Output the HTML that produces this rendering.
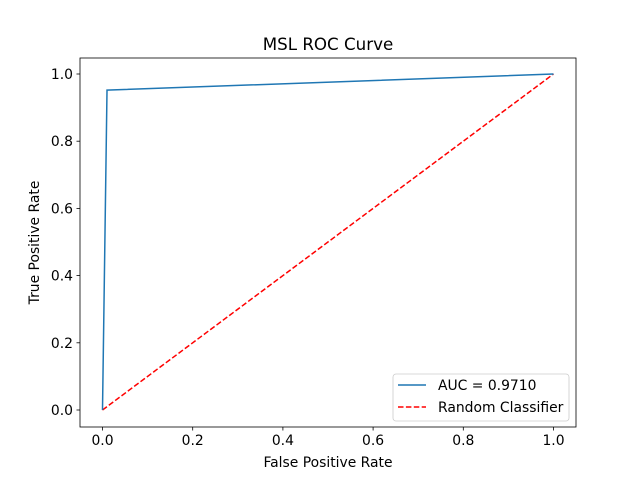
<!DOCTYPE html>
<html><head><meta charset="utf-8"><style>body{margin:0;background:#fff}svg{display:block;font-family:"DejaVu Sans","Liberation Sans",sans-serif}</style></head>
<body>
<svg id="chart" width="640" height="480">
<rect x="0" y="0" width="640" height="480" fill="#fff"/>
<text x="328" y="50" font-size="16.7" text-anchor="middle">MSL ROC Curve</text>
<g id="ticks"></g>
<g id="series"></g>
<rect x="80" y="58" width="496" height="369" fill="none" stroke="#000" stroke-width="0.8"/>
<text x="328" y="467" font-size="13.9" text-anchor="middle">False Positive Rate</text>
<text x="39" y="242.5" font-size="13.9" text-anchor="middle" transform="rotate(-90 39 242.5)">True Positive Rate</text>
<g>
<rect x="393" y="374" width="176" height="47" rx="3" fill="#fff" fill-opacity="0.8" stroke="#ccc" stroke-width="0.8"/>
<line x1="398" y1="385" x2="426" y2="385" stroke="#1f77b4" stroke-width="1.5"/>
<text x="438" y="390" font-size="13.9">AUC = 0.9710</text>
<line x1="398" y1="407" x2="426" y2="407" stroke="red" stroke-width="1.5" stroke-dasharray="5.5,2.4"/>
<text x="438" y="412" font-size="13.9">Random Classifier</text>
</g>
</svg>
<script>
const fpr = [0, 0.01, 1];
const tpr = [0, 0.952, 1];
const randX = [0, 1];
const randY = [0, 1];
const xTicks = [0, 0.2, 0.4, 0.6, 0.8, 1.0];
const yTicks = [0, 0.2, 0.4, 0.6, 0.8, 1.0];
const NS = "http://www.w3.org/2000/svg";
const xs = v => 102.5 + (v - 0) * 451;
const ys = v => 410 - v * 336;
const tg = document.getElementById('ticks');
xTicks.forEach(t => {
  const l = document.createElementNS(NS, 'line');
  l.setAttribute('x1', xs(t)); l.setAttribute('x2', xs(t));
  l.setAttribute('y1', 427); l.setAttribute('y2', 430.5);
  l.setAttribute('stroke', '#000'); l.setAttribute('stroke-width', '0.8');
  
  
  tg.appendChild(l);
  const tx = document.createElementNS(NS, 'text');
  tx.setAttribute('x', xs(t)); tx.setAttribute('y', 445);
  tx.setAttribute('font-size', '13.9'); tx.setAttribute('text-anchor', 'middle');
  tx.textContent = t.toFixed(1);
  
  
  tg.appendChild(tx);
});
yTicks.forEach(t => {
  const l = document.createElementNS(NS, 'line');
  l.setAttribute('x1', 76.5); l.setAttribute('x2', 80);
  l.setAttribute('y1', ys(t)); l.setAttribute('y2', ys(t));
  l.setAttribute('stroke', '#000'); l.setAttribute('stroke-width', '0.8');
  
  
  tg.appendChild(l);
  const tx = document.createElementNS(NS, 'text');
  tx.setAttribute('x', 73); tx.setAttribute('y', ys(t) + 5);
  tx.setAttribute('font-size', '13.9'); tx.setAttribute('text-anchor', 'end');
  tx.textContent = t.toFixed(1);
  
  
  tg.appendChild(tx);
});
const sg = document.getElementById('series');
const r = document.createElementNS(NS, 'polyline');
r.setAttribute('points', randX.map((x, i) => xs(x) + ',' + ys(randY[i])).join(' '));
r.setAttribute('fill', 'none'); r.setAttribute('stroke', 'red'); r.setAttribute('stroke-width', '1.5');
r.setAttribute('stroke-dasharray', '5.5,2.4');


sg.appendChild(r);
const p = document.createElementNS(NS, 'polyline');
p.setAttribute('points', fpr.map((x, i) => xs(x) + ',' + ys(tpr[i])).join(' '));
p.setAttribute('fill', 'none'); p.setAttribute('stroke', '#1f77b4'); p.setAttribute('stroke-width', '1.5');


sg.appendChild(p);
</script>
</body></html>
